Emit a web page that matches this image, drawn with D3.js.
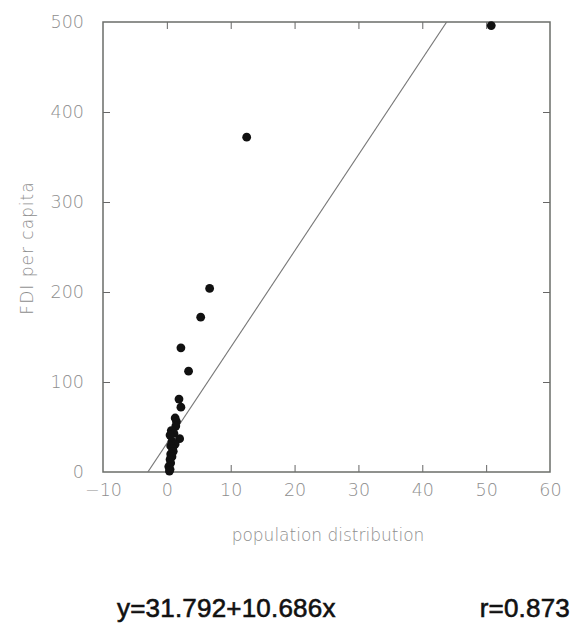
<!DOCTYPE html>
<html>
<head>
<meta charset="utf-8">
<script src="https://cdn.jsdelivr.net/npm/d3@7"></script>
<style>
  html, body { margin: 0; padding: 0; background: #fff; }
  svg { display: block; }
</style>
</head>
<body>
<svg id="chart" width="577" height="625"></svg>
<script>
// ---- data ----
const popDistribution = [50.8, 12.5, 6.7, 5.3, 2.2, 3.4, 1.9, 2.2, 1.3, 1.5, 1.4, 0.7, 1.1, 0.5, 2.0, 0.8, 1.3, 0.6, 0.9, 1.0, 0.6, 0.8, 0.5, 0.6, 0.3, 0.5, 0.4];
const fdiPerCapita    = [496, 372, 204, 172, 138, 112, 81, 72, 60, 56, 51, 46, 43, 41, 37, 34, 31, 29, 26, 23, 20, 17, 14, 10, 6, 3, 1];
const xTicks = [-10, 0, 10, 20, 30, 40, 50, 60];
const yTicks = [0, 100, 200, 300, 400, 500];
const fitIntercept = 31.792;
const fitSlope = 10.686;
const equationText = "y=31.792+10.686x";
const rText = "r=0.873";
const xLabel = "population distribution";
const yLabel = "FDI per capita";

// ---- layout ----
const pLeft = 103, pRight = 550, pTop = 22, pBottom = 472;
const svg = d3.select("#chart");
const x = d3.scaleLinear().domain([-10, 60]).range([pLeft, pRight]);
const y = d3.scaleLinear().domain([0, 500]).range([pBottom, pTop]);

const tickColor = "#666";
const labelColor = "#8e8e8e";
const labelFont = "'DejaVu Sans', sans-serif";

svg.append("defs").append("clipPath").attr("id", "plotclip")
  .append("rect").attr("x", pLeft).attr("y", pTop).attr("width", pRight - pLeft).attr("height", pBottom - pTop);

// axes (ticks pointing inward on all four sides)
const tickLen = 7;
const axB = svg.append("g").attr("transform", `translate(0,${pBottom})`)
  .call(d3.axisBottom(x).tickValues(xTicks).tickSize(-tickLen).tickPadding(12).tickFormat(d => d < 0 ? "\u2212" + Math.abs(d) : d));
const axT = svg.append("g").attr("transform", `translate(0,${pTop})`)
  .call(d3.axisTop(x).tickValues(xTicks).tickSize(-tickLen).tickFormat(""));
const axL = svg.append("g").attr("transform", `translate(${pLeft},0)`)
  .call(d3.axisLeft(y).tickValues(yTicks).tickSize(-tickLen).tickPadding(19));
const axR = svg.append("g").attr("transform", `translate(${pRight},0)`)
  .call(d3.axisRight(y).tickValues(yTicks).tickSize(-tickLen).tickFormat(""));

[axB, axT, axL, axR].forEach(g => {
  g.select(".domain").remove();
  g.selectAll(".tick line").attr("stroke", tickColor).attr("stroke-width", 1);
  g.selectAll(".tick text").attr("fill", labelColor).attr("font-family", labelFont)
    .attr("font-size", 17.5).attr("font-weight", 200);
});
axB.selectAll(".tick").filter(d => d === -10 || d === 60).select("line").remove();
axT.selectAll(".tick").filter(d => d === -10 || d === 60).select("line").remove();
axL.selectAll(".tick").filter(d => d === 0 || d === 500).select("line").remove();
axR.selectAll(".tick").filter(d => d === 0 || d === 500).select("line").remove();

// frame
svg.append("rect").attr("x", pLeft).attr("y", pTop).attr("width", pRight - pLeft).attr("height", pBottom - pTop)
  .attr("fill", "none").attr("stroke", "#6b6e69").attr("stroke-width", 1.5);

// regression line
const x0 = -10, x1 = 60;
svg.append("line")
  .attr("clip-path", "url(#plotclip)")
  .attr("x1", x(x0)).attr("y1", y(fitIntercept + fitSlope * x0))
  .attr("x2", x(x1)).attr("y2", y(fitIntercept + fitSlope * x1))
  .attr("stroke", "#777").attr("stroke-width", 1.1);

// points
const pts = popDistribution.map((d, i) => ({ px: d, fy: fdiPerCapita[i] }));
svg.append("g").selectAll("circle").data(pts).join("circle")
  .attr("cx", d => x(d.px)).attr("cy", d => y(d.fy)).attr("r", 4.4)
  .attr("fill", "#111");

// axis titles
svg.append("text").attr("x", 328).attr("y", 541).attr("text-anchor", "middle")
  .attr("font-family", labelFont).attr("font-size", 17).attr("font-weight", 200)
  .attr("fill", labelColor).text(xLabel);
svg.append("text").attr("transform", `translate(33,248) rotate(-90)`).attr("text-anchor", "middle")
  .attr("font-family", labelFont).attr("font-size", 17).attr("font-weight", 200)
  .attr("letter-spacing", 1).attr("fill", labelColor).text(yLabel);

// equation text
svg.append("text").attr("x", 117).attr("y", 617)
  .attr("font-family", "'Liberation Sans', Arial, sans-serif").attr("font-size", 26)
  .attr("letter-spacing", 0.2).attr("stroke", "#111").attr("stroke-width", 0.6)
  .attr("fill", "#111").text(equationText);
svg.append("text").attr("x", 570).attr("y", 617).attr("text-anchor", "end")
  .attr("font-family", "'Liberation Sans', Arial, sans-serif").attr("font-size", 26)
  .attr("letter-spacing", 0.2).attr("stroke", "#111").attr("stroke-width", 0.6)
  .attr("fill", "#111").text(rText);
</script>
</body>
</html>
